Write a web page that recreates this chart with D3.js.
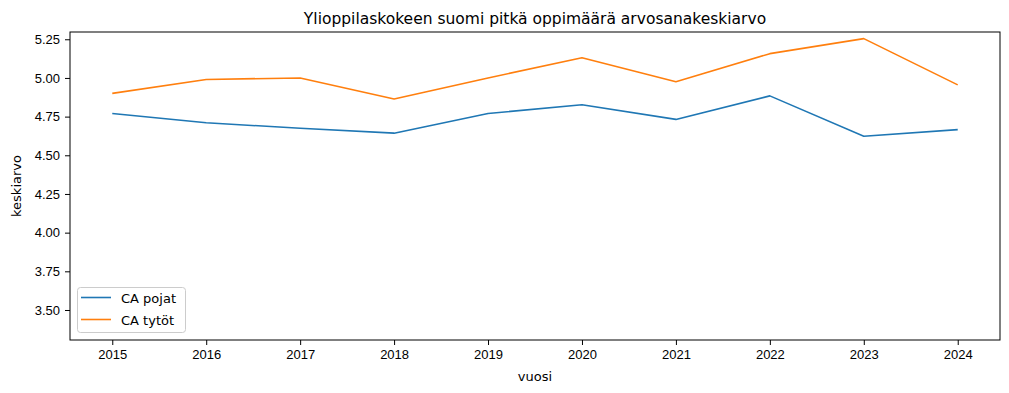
<!DOCTYPE html>
<html>
<head>
<meta charset="utf-8">
<script src="https://cdn.jsdelivr.net/npm/d3@7"></script>
<style>
  body { margin: 0; background: #fff; }
  svg { display: block; font-family: "DejaVu Sans", sans-serif; }
  .tick text { font-size: 13px; fill: #000; }
  .tick line { stroke: #000; }
  .domain { display: none; }
</style>
</head>
<body>
<svg id="chart" width="1009" height="393"></svg>
<script>
// data
const years = [2015, 2016, 2017, 2018, 2019, 2020, 2021, 2022, 2023, 2024];
const pojat = [4.77, 4.71, 4.675, 4.643, 4.77, 4.827, 4.732, 4.884, 4.623, 4.666];
const tytot = [4.90, 4.99, 5.00, 4.864, 5.00, 5.131, 4.976, 5.157, 5.254, 4.955];
const yTicks = [3.50, 3.75, 4.00, 4.25, 4.50, 4.75, 5.00, 5.25];
const seriesNames = ["CA pojat", "CA tytöt"];
const colors = ["#1f77b4", "#ff7f0e"];

const svg = d3.select("#chart");
const plotLeft = 70, plotRight = 1000, plotTop = 32, plotBottom = 340;

const x = d3.scaleLinear().domain([2014.55, 2024.45]).range([plotLeft, plotRight]);
const y = d3.scaleLinear().domain([3.306, 5.297]).range([plotBottom, plotTop]);

// axes
svg.append("g")
    .attr("transform", `translate(0,${plotBottom})`)
    .call(d3.axisBottom(x).tickValues(years).tickFormat(d3.format("d")).tickSize(5).tickPadding(5));

svg.append("g")
    .attr("transform", `translate(${plotLeft},0)`)
    .call(d3.axisLeft(y).tickValues(yTicks).tickFormat(d3.format(".2f")).tickSize(5).tickPadding(5));

// lines
const line = d3.line().x((d, i) => x(years[i])).y(d => y(d));
[pojat, tytot].forEach((s, i) => {
    svg.append("path")
        .datum(s)
        .attr("fill", "none")
        .attr("stroke", colors[i])
        .attr("stroke-width", 1.6)
        .attr("stroke-linejoin", "round")
        .attr("d", line);
});

// frame
svg.append("rect")
    .attr("x", plotLeft).attr("y", plotTop)
    .attr("width", plotRight - plotLeft).attr("height", plotBottom - plotTop)
    .attr("fill", "none").attr("stroke", "#000").attr("stroke-width", 1);

// title and labels
svg.append("text")
    .attr("x", (plotLeft + plotRight) / 2).attr("y", 24)
    .attr("text-anchor", "middle")
    .attr("font-size", 15.5)
    .text("Ylioppilaskokeen suomi pitkä oppimäärä arvosanakeskiarvo");

svg.append("text")
    .attr("x", (plotLeft + plotRight) / 2).attr("y", 381)
    .attr("text-anchor", "middle")
    .attr("font-size", 13)
    .text("vuosi");

svg.append("text")
    .attr("transform", `translate(21,${(plotTop + plotBottom) / 2}) rotate(-90)`)
    .attr("text-anchor", "middle")
    .attr("font-size", 13)
    .text("keskiarvo");

// legend
const legend = svg.append("g");
legend.append("rect")
    .attr("x", 77.5).attr("y", 287.5)
    .attr("width", 108).attr("height", 45)
    .attr("rx", 3)
    .attr("fill", "#fff").attr("fill-opacity", 0.8)
    .attr("stroke", "#ccc");
seriesNames.forEach((name, i) => {
    const ly = 297.5 + i * 22;
    legend.append("line")
        .attr("x1", 81).attr("x2", 111)
        .attr("y1", ly).attr("y2", ly)
        .attr("stroke", colors[i]).attr("stroke-width", 1.6);
    legend.append("text")
        .attr("x", 121).attr("y", ly + 5)
        .attr("font-size", 13)
        .text(name);
});
</script>
</body>
</html>
